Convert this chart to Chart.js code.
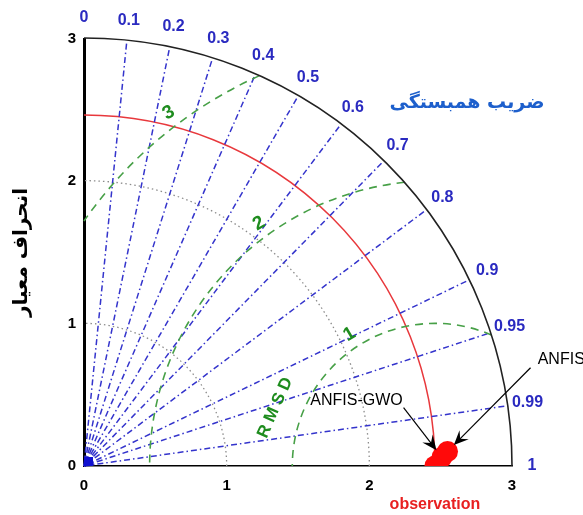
<!DOCTYPE html>
<html>
<head>
<meta charset="utf-8">
<script src="https://cdn.jsdelivr.net/npm/chart.js@4/dist/chart.umd.min.js"></script>
<style>html,body{margin:0;padding:0;background:#fff}</style>
</head>
<body>
<canvas id="taylor" width="583" height="515"></canvas>
<script>
// dane diagramu Taylora
const corrTicks = [0, 0.1, 0.2, 0.3, 0.4, 0.5, 0.6, 0.7, 0.8, 0.9, 0.95, 0.99, 1];
const stdTicks = [0, 1, 2, 3];
const stdGrid = [1, 2];
const rmsdLevels = [1, 2, 3];
const modelNames = ['observation', 'ANFIS-GWO', 'ANFIS'];
const modelStd = [2.46, 2.51, 2.55];
const modelCorr = [1, 0.9997, 0.9992];
const maxStd = 3;

const FONT = "'Liberation Sans', 'DejaVu Sans', sans-serif";
const corrTitle = 'ضریب همبستگی';
const stdTitle = 'انحراف معیار';

// kąty (w stopniach, od środka obserwacji) dla podpisów RMSD
const rmsdLabelAngle = [123, 126, 127];

const points = modelStd.map((s, i) => ({
    x: s * modelCorr[i],
    y: s * Math.sqrt(1 - modelCorr[i] * modelCorr[i])
}));

// podpisy modeli: pozycja tekstu i początek strzałki (w jednostkach osi)
const noteText = ['ANFIS-GWO', 'ANFIS'];
const notePos = [{ x: 1.91, y: 0.46 }, { x: 3.18, y: 0.745 }];
const noteTail = [{ x: 2.24, y: 0.41 }, { x: 3.13, y: 0.69 }];

function drawArrow(ctx, x1, y1, x2, y2) {
    const a = Math.atan2(y2 - y1, x2 - x1);
    ctx.beginPath();
    ctx.moveTo(x1, y1);
    ctx.lineTo(x2 - 8 * Math.cos(a), y2 - 8 * Math.sin(a));
    ctx.stroke();
    ctx.beginPath();
    ctx.moveTo(x2, y2);
    ctx.lineTo(x2 - 16 * Math.cos(a - 0.42), y2 - 16 * Math.sin(a - 0.42));
    ctx.lineTo(x2 - 9 * Math.cos(a), y2 - 9 * Math.sin(a));
    ctx.lineTo(x2 - 16 * Math.cos(a + 0.42), y2 - 16 * Math.sin(a + 0.42));
    ctx.closePath();
    ctx.fill();
}

const taylorGrid = {
    id: 'taylorGrid',
    beforeDatasetsDraw(chart) {
        const { ctx, scales: { x, y } } = chart;
        const ox = x.getPixelForValue(0), oy = y.getPixelForValue(0);
        const rad = v => x.getPixelForValue(v) - ox;
        ctx.save();

        // kropkowane łuki odchylenia
        ctx.strokeStyle = '#8c8c8c';
        ctx.lineWidth = 1.3;
        ctx.setLineDash([1.5, 3]);
        stdGrid.forEach(s => {
            ctx.beginPath();
            ctx.arc(ox, oy, rad(s), 0, -Math.PI / 2, true);
            ctx.stroke();
        });

        // łuk obserwacji
        ctx.setLineDash([]);
        ctx.strokeStyle = '#e8383c';
        ctx.lineWidth = 1.5;
        ctx.beginPath();
        ctx.arc(ox, oy, rad(modelStd[0]), 0, -Math.PI / 2, true);
        ctx.stroke();

        // promienie korelacji
        ctx.strokeStyle = '#3434cc';
        ctx.lineWidth = 1.5;
        ctx.setLineDash([6, 3, 1.5, 3]);
        corrTicks.filter(c => c > 0 && c < 1).forEach(c => {
            const s = Math.sqrt(1 - c * c);
            ctx.beginPath();
            ctx.moveTo(ox, oy);
            ctx.lineTo(x.getPixelForValue(maxStd * c), y.getPixelForValue(maxStd * s));
            ctx.stroke();
        });

        // łuki RMSD wokół obserwacji
        const obs = modelStd[0];
        const cx = x.getPixelForValue(obs);
        ctx.strokeStyle = '#47a047';
        ctx.lineWidth = 1.6;
        ctx.setLineDash([8, 6]);
        rmsdLevels.forEach(R => {
            const xe = (maxStd * maxStd - R * R + obs * obs) / (2 * obs);
            const ye = Math.sqrt(maxStd * maxStd - xe * xe);
            const aEnd = Math.atan2(ye, xe - obs);
            let aStart = Math.PI;
            if (obs - R < 0) aStart = Math.atan2(Math.sqrt(R * R - obs * obs), -obs);
            ctx.beginPath();
            ctx.arc(cx, oy, rad(R), -aEnd, -aStart, true);
            ctx.stroke();
        });

        // zewnętrzny łuk
        ctx.setLineDash([]);
        ctx.strokeStyle = '#222';
        ctx.lineWidth = 1.6;
        ctx.beginPath();
        ctx.arc(ox, oy, rad(maxStd), 0, -Math.PI / 2, true);
        ctx.stroke();

        ctx.fillStyle = '#1010d0';
        ctx.fillRect(ox, oy - 9, 9, 9);
        ctx.restore();
    },
    afterDatasetsDraw(chart) {
        const { ctx, scales: { x, y } } = chart;
        const ox = x.getPixelForValue(0), oy = y.getPixelForValue(0);
        const rad = v => x.getPixelForValue(v) - ox;
        ctx.save();

        // etykiety korelacji
        ctx.fillStyle = '#2a2ac0';
        ctx.font = `bold 16px ${FONT}`;
        ctx.textAlign = 'center';
        ctx.textBaseline = 'middle';
        const rl = rad(3.14);
        corrTicks.forEach(c => {
            const s = Math.sqrt(1 - c * c);
            ctx.fillText(String(c), ox + rl * c, oy - rl * s);
        });

        ctx.fillStyle = '#1d5fcc';
        ctx.font = `bold 19px 'DejaVu Sans', sans-serif`;
        ctx.fillText(corrTitle, 467, 103);

        // etykiety RMSD
        const obs = modelStd[0];
        const cx = x.getPixelForValue(obs);
        ctx.fillStyle = '#1e8c1e';
        ctx.font = `bold 19px ${FONT}`;
        rmsdLevels.forEach((R, i) => {
            const ang = rmsdLabelAngle[i] * Math.PI / 180;
            const r = rad(R + 0.1);
            ctx.save();
            ctx.translate(cx + r * Math.cos(ang), oy - r * Math.sin(ang));
            ctx.rotate(-30 * Math.PI / 180);
            ctx.fillText(String(R), 0, 0);
            ctx.restore();
        });
        ctx.save();
        ctx.font = `bold 17px ${FONT}`;
        ctx.translate(x.getPixelForValue(1.34), y.getPixelForValue(0.41));
        ctx.rotate(-66 * Math.PI / 180);
        ctx.fillText('R M S D', 0, 0);
        ctx.restore();

        // obserwacja
        ctx.fillStyle = '#e82020';
        ctx.font = `bold 16px ${FONT}`;
        ctx.fillText(modelNames[0], x.getPixelForValue(modelStd[0]), 505);

        // podpisy modeli ze strzałkami
        ctx.fillStyle = '#000';
        ctx.strokeStyle = '#000';
        ctx.lineWidth = 1.2;
        ctx.font = `16px ${FONT}`;
        noteText.forEach((t, i) => {
            ctx.textAlign = i === 0 ? 'center' : 'left';
            ctx.fillText(t, x.getPixelForValue(notePos[i].x), y.getPixelForValue(notePos[i].y));
            const p = points[i + 1];
            const tx = x.getPixelForValue(noteTail[i].x), ty = y.getPixelForValue(noteTail[i].y);
            const px = x.getPixelForValue(p.x), py = y.getPixelForValue(p.y);
            const a = Math.atan2(py - ty, px - tx);
            drawArrow(ctx, tx, ty, px - 9 * Math.cos(a), py - 9 * Math.sin(a));
        });
        ctx.restore();
    }
};

new Chart(document.getElementById('taylor'), {
    type: 'scatter',
    data: {
        datasets: [{
            label: 'models',
            data: points,
            backgroundColor: '#ff0a0a',
            borderWidth: 0,
            pointRadius: 10.5,
            pointHoverRadius: 10.5
        }]
    },
    options: {
        responsive: false,
        animation: false,
        layout: { padding: { left: 0, right: 71, top: 39, bottom: 0 } },
        plugins: { legend: { display: false }, tooltip: { enabled: false } },
        scales: {
            x: {
                type: 'linear', min: 0, max: maxStd,
                afterBuildTicks: s => { s.ticks = stdTicks.map(v => ({ value: v })); },
                afterFit: s => { s.height = 49; },
                grid: { display: false, drawTicks: false },
                border: { display: true, color: '#000', width: 1.6 },
                ticks: { color: '#000', padding: 11, font: { size: 15, weight: 'bold', family: FONT } }
            },
            y: {
                type: 'linear', min: 0, max: maxStd,
                afterBuildTicks: s => { s.ticks = stdTicks.map(v => ({ value: v })); },
                afterFit: s => { s.width = 84; },
                grid: { display: false, drawTicks: false },
                border: { display: true, color: '#000', width: 3 },
                ticks: { color: '#000', padding: 8, font: { size: 15, weight: 'bold', family: FONT } },
                title: {
                    display: true, text: stdTitle, color: '#000',
                    padding: { top: 10, bottom: 0 },
                    font: { size: 20, weight: 'bold', family: "'DejaVu Sans', sans-serif" }
                }
            }
        }
    },
    plugins: [taylorGrid]
});
</script>
</body>
</html>
